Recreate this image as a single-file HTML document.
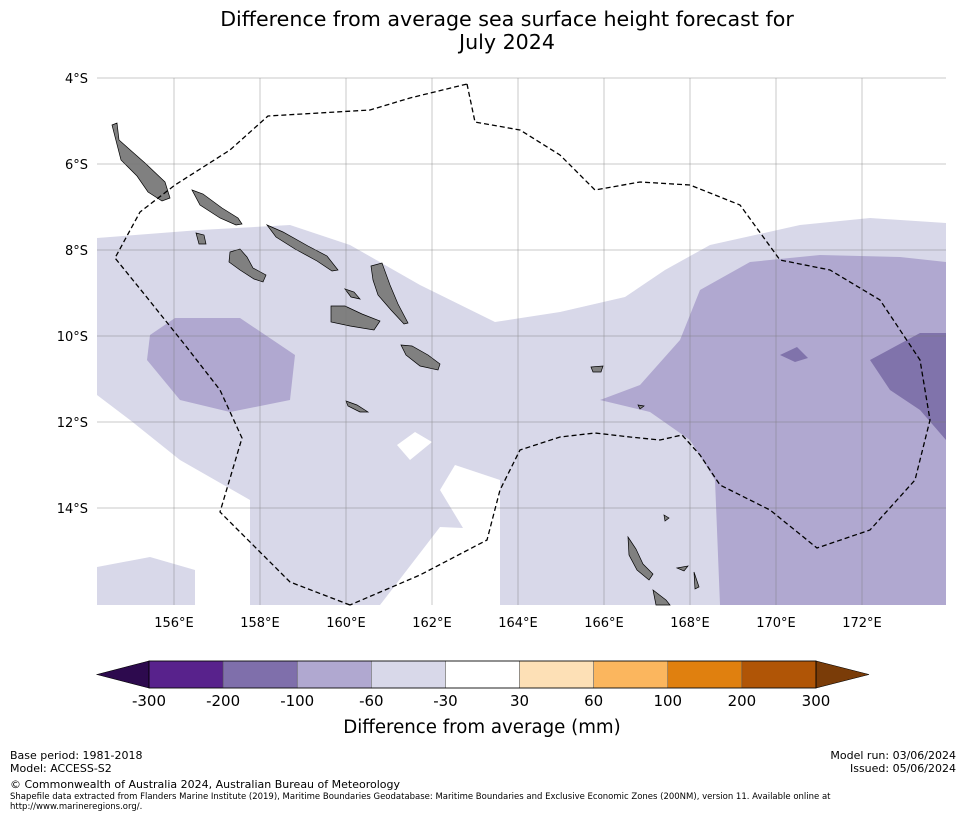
<!DOCTYPE html>
<html><head><meta charset="utf-8"><style>
body{margin:0;background:#fff;font-family:"Liberation Sans","DejaVu Sans",sans-serif;}
svg text{font-family:"DejaVu Sans","Liberation Sans",sans-serif;}
</style></head><body>
<svg id="chart" width="965" height="816" viewBox="0 0 965 816">
<text x="507" y="26" text-anchor="middle" font-size="20.6">Difference from average sea surface height forecast for</text>
<text x="507" y="49" text-anchor="middle" font-size="20.6">July 2024</text>
<g id="map">
<rect x="97" y="78" width="849" height="527" fill="#fff"/>
<polygon fill="#d8d8e9" points="97,238 200,230 290,225 350,245 420,285 495,322 560,312 625,297 665,270 710,245 800,225 870,218 946,223 946,605 720,605 500,605 500,480 455,465 440,490 463,528 440,527 380,605 250,605 250,500 180,460 130,420 97,395"/>
<polygon fill="#d8d8e9" points="97,567 150,557 195,570 195,605 97,605"/>
<polygon fill="#fff" points="397,445 415,432 432,442 410,460"/>
<polygon fill="#b0a8d0" points="600,400 640,385 680,340 700,290 750,262 820,255 900,257 946,262 946,605 720,605 715,480 690,440 650,412"/>
<polygon fill="#b0a8d0" points="150,335 175,318 240,318 295,355 290,400 230,412 180,400 147,360"/>
<polygon fill="#8073ab" points="870,360 920,333 946,333 946,440 920,410 890,390"/>
<polygon fill="#8073ab" points="780,355 797,347 808,358 795,362"/>
<g fill="#808080" stroke="#000" stroke-width="0.7">
<polygon points="112,125 117,123 119,140 128,148 145,163 165,182 170,198 162,201 148,192 137,176 121,160"/>
<polygon points="192,190 203,194 222,208 238,218 242,224 236,225 220,218 200,205"/>
<polygon points="267,225 283,232 308,246 327,256 338,270 332,271 317,261 295,249 276,237"/>
<polygon points="196,233 204,235 206,244 199,244"/>
<polygon points="230,252 240,249 247,257 253,268 266,275 263,282 254,279 240,270 229,262"/>
<polygon points="371,266 382,263 390,285 398,304 408,323 404,324 391,310 378,295 373,280"/>
<polygon points="331,306 345,306 362,314 380,321 374,330 350,326 331,322"/>
<polygon points="401,345 412,346 428,355 440,364 438,370 420,366 406,355"/>
<polygon points="345,289 354,292 360,299 351,297"/>
<polygon points="346,401 357,405 368,412 360,412 348,406"/>
<polygon points="628,537 636,549 643,564 653,574 649,580 637,570 629,555"/>
<polygon points="653,590 666,600 670,605 656,605"/>
<polygon points="591,367 603,366 601,372 593,372"/>
<polygon points="677,568 688,566 684,571"/>
<polygon points="694,572 699,587 695,589"/>
<polygon points="664,515 669,518 665,521"/>
<polygon points="638,405 644,406 640,409"/>
</g>
<g id="grid" stroke="#777" stroke-width="0.5" opacity="0.8"></g>
<polyline fill="none" stroke="#000" stroke-width="1.3" stroke-dasharray="5,3" points="467,84 475,122 520,130 560,155 595,190 640,182 690,185 740,205 780,260 830,270 880,300 920,360 930,420 915,480 870,530 817,548 770,510 720,485 700,455 682,435 660,440 630,437 595,433 560,437 520,450 500,490 487,540 420,575 350,605"/>
<polyline fill="none" stroke="#000" stroke-width="1.3" stroke-dasharray="5,3" points="350,605 290,582 220,512 242,438 220,390 185,345 145,295 115,258 140,212 175,185 230,150 268,116 370,110 410,98 467,84"/>
</g>
<g id="axes" font-size="13"></g>
<g id="cbar"></g>
<text x="482" y="733" text-anchor="middle" font-size="18.2">Difference from average (mm)</text>
<g font-size="11">
<text x="10" y="759">Base period: 1981-2018</text>
<text x="10" y="772">Model: ACCESS-S2</text>
<text x="10" y="788">© Commonwealth of Australia 2024, Australian Bureau of Meteorology</text>
<text x="956" y="759" text-anchor="end">Model run: 03/06/2024</text>
<text x="956" y="772" text-anchor="end">Issued: 05/06/2024</text>
<text x="10" y="799" font-size="8.5">Shapefile data extracted from Flanders Marine Institute (2019), Maritime Boundaries Geodatabase: Maritime Boundaries and Exclusive Economic Zones (200NM), version 11. Available online at</text>
<text x="10" y="809" font-size="8.5">http://www.marineregions.org/.</text>
</g>
</svg>
<script>
const lonTicks=[156,158,160,162,164,166,168,170,172];
const latTicks=[4,6,8,10,12,14];
const cbLevels=["-300","-200","-100","-60","-30","30","60","100","200","300"];
const cbColors=["#58228c","#7f6fab","#b0a8d0","#d8d8e9","#ffffff","#fde0b6","#fbb65e","#e0800f","#b05506"];
const extColors=["#2d0a4e","#7a3c08"];
const NS="http://www.w3.org/2000/svg";
function xs(lon){return 174+(lon-156)*43;}
function ys(lat){return 78+(lat-4)*43;}
function mk(t,a,p){const e=document.createElementNS(NS,t);for(const k in a)e.setAttribute(k,a[k]);if(p)p.appendChild(e);return e;}
const grid=document.getElementById('grid'),axes=document.getElementById('axes'),cb=document.getElementById('cbar');
lonTicks.forEach(l=>{const x=xs(l);
const g=mk('line',{x1:x,x2:x,y1:78,y2:605},grid);


const t=mk('text',{x:x,y:627,'text-anchor':'middle'},axes);t.textContent=l+'°E';

});
latTicks.forEach(l=>{const y=ys(l);
const g=mk('line',{x1:97,x2:946,y1:y,y2:y},grid);


const t=mk('text',{x:88,y:y+5,'text-anchor':'end'},axes);t.textContent=l+'°S';

});
const cx0=149,cx1=816,cy=661,ch=27,w=(cx1-cx0)/cbColors.length;
cbColors.forEach((c,i)=>{const r=mk('rect',{x:cx0+i*w,y:cy,width:w,height:ch,fill:c,stroke:'#555','stroke-width':0.5},cb);

});
const t1=mk('polygon',{points:`${cx0},${cy} ${cx0},${cy+ch} 97,${cy+ch/2}`,fill:extColors[0],stroke:'#000','stroke-width':0.6},cb);


const t2=mk('polygon',{points:`${cx1},${cy} ${cx1},${cy+ch} 869,${cy+ch/2}`,fill:extColors[1],stroke:'#000','stroke-width':0.6},cb);


mk('rect',{x:cx0,y:cy,width:cx1-cx0,height:ch,fill:'none',stroke:'#000','stroke-width':0.8},cb);
cbLevels.forEach((v,i)=>{const t=mk('text',{x:cx0+i*w,y:706,'text-anchor':'middle','font-size':15},cb);t.textContent=v;

});
</script>
</body></html>
